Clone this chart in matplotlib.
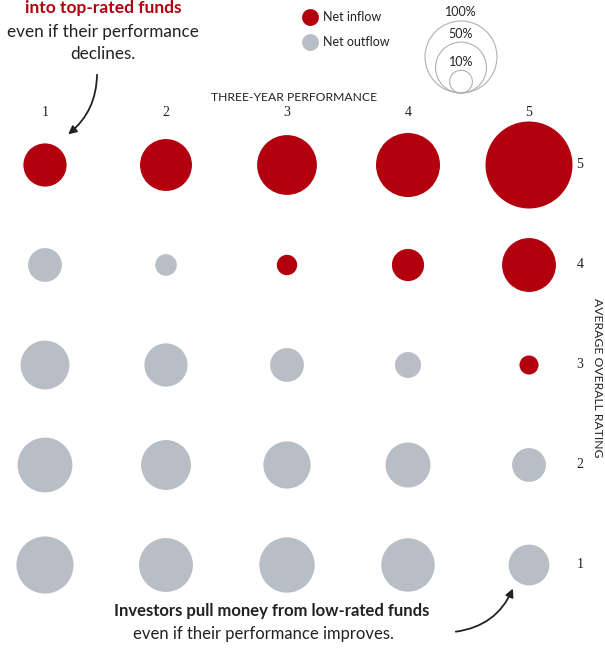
import numpy as np
import matplotlib.pyplot as plt

# fund flows as a share of assets (%), rows = average overall rating, cols = 3-year performance
performance = [1, 2, 3, 4, 5]
ratings = [5, 4, 3, 2, 1]
flow_pct = np.array([
    [36, 52, 69, 79, 146],   # rating 5
    [22,  9,  8, 20,  56],   # rating 4
    [46, 36, 22, 13,   7],   # rating 3
    [58, 48, 43, 39,  22],   # rating 2
    [63, 56, 59, 55,  32],   # rating 1
])
inflow = np.array([
    [1, 1, 1, 1, 1],
    [0, 0, 1, 1, 1],
    [0, 0, 0, 0, 1],
    [0, 0, 0, 0, 0],
    [0, 0, 0, 0, 0],
], dtype=bool)
legend_pct = [100, 50, 10]

RED = '#b3000f'
GRAY = '#b8bec6'
TXT = '#222222'

W, H = 605, 651
fig = plt.figure(figsize=(W / 100, H / 100), dpi=100)
ax = fig.add_axes([0, 0, 1, 1])
ax.axis('off')

# column 1 at x=45px, spacing 121px; rating 5 at y=165px, spacing 100px
ax.set_xlim(1 - 45 / 121, 1 + (W - 45) / 121)
ax.set_ylim(5 - (H - 165) / 100, 5 + 165 / 100)

def px(x, y):
    # pixel position (from top-left) -> data coords
    return 1 + (x - 45) / 121, 5 + (165 - y) / 100

def size(p):
    # 100% -> radius 36 px; area proportional
    r = 36 * np.sqrt(np.asarray(p) / 100)
    return (2 * r * 0.72) ** 2

X, Y = np.meshgrid(performance, ratings)
colors = np.where(inflow, RED, GRAY)
ax.scatter(X.ravel(), Y.ravel(), s=size(flow_pct.ravel()), c=colors.ravel(),
           linewidths=0, zorder=2)

font = 'Lato'
for p in performance:
    ax.text(p, px(0, 112)[1], str(p), ha='center', va='center',
            fontsize=10, family='Liberation Serif', color=TXT)
for r in ratings:
    ax.text(px(580, 0)[0], r, str(r), ha='center', va='center',
            fontsize=10, family='Liberation Serif', color=TXT)

ax.text(*px(294, 97), 'THREE-YEAR PERFORMANCE', ha='center', va='center',
        fontsize=8.7, family=font, color=TXT)
ax.text(*px(597, 378), 'AVERAGE OVERALL RATING', ha='center', va='center',
        rotation=270, fontsize=8.7, family=font, color=TXT)

# legend: inflow / outflow
ax.scatter(*px(310, 17), s=size(5.5), c=RED, linewidths=0)
ax.scatter(*px(310, 42), s=size(5.5), c=GRAY, linewidths=0)
ax.text(*px(323, 17), 'Net inflow', ha='left', va='center', fontsize=9, family=font, color=TXT)
ax.text(*px(323, 42), 'Net outflow', ha='left', va='center', fontsize=9, family=font, color=TXT)

# legend: size key, circles sitting on a common bottom
bottom = 93
for p, ly in zip(legend_pct, [12, 34, 62]):
    r = 36 * np.sqrt(p / 100)
    ax.scatter(*px(461, bottom - r), s=size(p), facecolors='none',
               edgecolors='#b0b0b0', linewidths=0.8)
    ax.text(*px(461, ly), f'{p}%', ha='center', va='center', fontsize=9,
            family=font, color=TXT)

# annotations
ax.text(*px(103, 8), 'into top-rated funds', ha='center', va='center',
        fontsize=12.5, weight='bold', family=font, color=RED)
ax.text(*px(103, 32), 'even if their performance', ha='center', va='center',
        fontsize=12.3, family=font, color=TXT)
ax.text(*px(103, 54), 'declines.', ha='center', va='center',
        fontsize=12.3, family=font, color=TXT)
ax.annotate('', xy=px(66, 136), xytext=px(97, 72),
            arrowprops=dict(arrowstyle='-|>', color=TXT, lw=1.3,
                            connectionstyle='arc3,rad=-0.25', mutation_scale=12))

ax.text(*px(272, 611), 'Investors pull money from low-rated funds', ha='center',
        va='center', fontsize=12, weight='bold', family=font, color=TXT)
ax.text(*px(263, 634), 'even if their performance improves.', ha='center',
        va='center', fontsize=12, family=font, color=TXT)
ax.annotate('', xy=px(514, 586), xytext=px(453, 632),
            arrowprops=dict(arrowstyle='-|>', color=TXT, lw=1.3,
                            connectionstyle='arc3,rad=0.3', mutation_scale=12))

fig.savefig('out.png', dpi=100, facecolor='white')
